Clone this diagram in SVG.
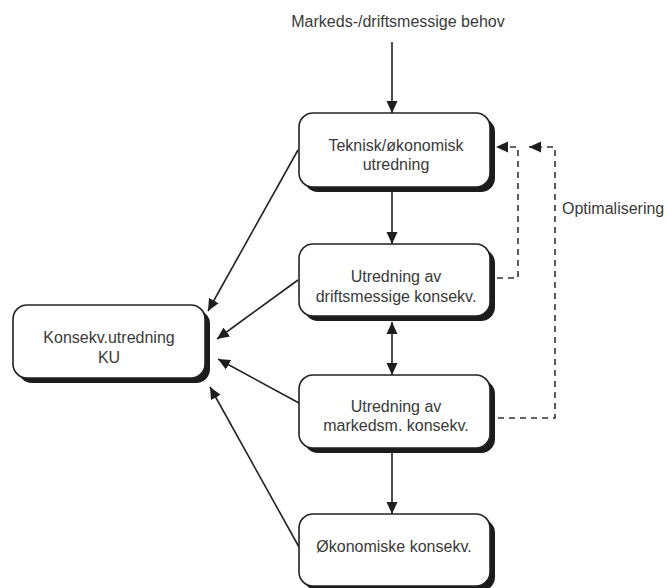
<svg xmlns="http://www.w3.org/2000/svg" width="667" height="588" viewBox="0 0 667 588">
<defs>
<marker id="ah" viewBox="0 0 12 12" refX="12" refY="6" markerWidth="12" markerHeight="12" markerUnits="userSpaceOnUse" orient="auto-start-reverse">
<path d="M0,0.5 L12,6 L0,11.5 z" fill="#1e1e1e" stroke="none"/>
</marker>
</defs>
<style>
.shadow{fill:#1c1c1c;}
.box{fill:#fff;stroke:#222;stroke-width:1.6;}
.t{font-family:"Liberation Sans",Arial,sans-serif;font-size:16px;fill:#3a3a3a;text-anchor:middle;}
.c{fill:none;stroke:#222;stroke-width:1.6;}
.d{fill:none;stroke:#333;stroke-width:1.6;stroke-dasharray:6 5;}
</style>
<rect width="667" height="588" fill="#fff"/>
<text class="t" x="398" y="27">Markeds-/driftsmessige behov</text>
<text class="t" x="562" y="214" style="text-anchor:start">Optimalisering</text>

<g id="connectors">
<line class="c" x1="392" y1="42" x2="392" y2="113" marker-end="url(#ah)"/>
<line class="c" x1="392" y1="188" x2="392" y2="244" marker-end="url(#ah)"/>
<line class="c" x1="392" y1="322" x2="392" y2="375" marker-start="url(#ah)" marker-end="url(#ah)"/>
<line class="c" x1="392" y1="453" x2="392" y2="514" marker-end="url(#ah)"/>
<line class="c" x1="298" y1="150" x2="208" y2="311" marker-end="url(#ah)"/>
<line class="c" x1="298" y1="280" x2="217" y2="339" marker-end="url(#ah)"/>
<line class="c" x1="299" y1="403" x2="218" y2="359" marker-end="url(#ah)"/>
<line class="c" x1="299" y1="547" x2="210" y2="387" marker-end="url(#ah)"/>
<path class="d" d="M497,278 H518 V147 H496" marker-end="url(#ah)"/>
<path class="d" d="M498,418 H555 V147 H529" marker-end="url(#ah)"/>
</g>

<g id="node-teknisk">
<rect class="shadow" x="304" y="118" width="191" height="74" rx="14"/>
<rect class="box" x="299" y="113" width="191" height="74" rx="14"/>
<text class="t" x="396" y="151">Teknisk/økonomisk</text>
<text class="t" x="396" y="170">utredning</text>
</g>
<g id="node-drift">
<rect class="shadow" x="304" y="249" width="191" height="72" rx="14"/>
<rect class="box" x="299" y="244" width="191" height="72" rx="14"/>
<text class="t" x="396" y="282">Utredning av</text>
<text class="t" x="396" y="302">driftsmessige konsekv.</text>
</g>
<g id="node-marked">
<rect class="shadow" x="304" y="380" width="191" height="73" rx="14"/>
<rect class="box" x="299" y="375" width="191" height="73" rx="14"/>
<text class="t" x="396" y="412">Utredning av</text>
<text class="t" x="396" y="431">markedsm. konsekv.</text>
</g>
<g id="node-okonomi">
<rect class="shadow" x="304" y="519" width="191" height="72" rx="14"/>
<rect class="box" x="299" y="514" width="191" height="72" rx="14"/>
<text class="t" x="394" y="552">Økonomiske konsekv.</text>
</g>
<g id="node-ku">
<rect class="shadow" x="18" y="310" width="192" height="73" rx="14"/>
<rect class="box" x="13" y="305" width="192" height="73" rx="14"/>
<text class="t" x="109" y="343">Konsekv.utredning</text>
<text class="t" x="109" y="363">KU</text>
</g>
</svg>
